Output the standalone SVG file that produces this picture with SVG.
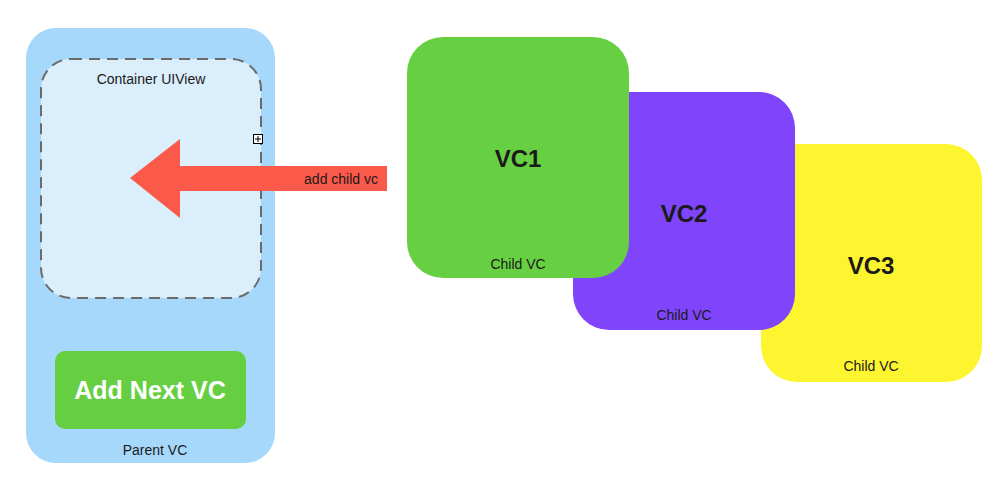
<svg xmlns="http://www.w3.org/2000/svg" width="1008" height="482" viewBox="0 0 1008 482">
<style>
text{font-family:"Liberation Sans",Arial,sans-serif;fill:#1a1a1a;text-anchor:middle}
.s{font-size:14px}
.b{font-size:24px;font-weight:bold}
</style>
<rect width="1008" height="482" fill="#ffffff"/>
<g id="parent">
<rect x="26" y="28" width="249" height="435" rx="30" fill="#a6d8fc"/>
<text class="s" x="155" y="455">Parent VC</text>
</g>
<g id="container">
<rect x="41" y="59" width="220" height="239" rx="30" fill="#dbeefc" stroke="#6b6b6b" stroke-width="2" stroke-dasharray="11 7"/>
<text class="s" x="151" y="84">Container UIView</text>
<rect x="253.5" y="134.5" width="9" height="9" fill="#ffffff" stroke="#000" stroke-width="1"/>
<path d="M258 136V142M255 139H261" stroke="#000" stroke-width="1"/>
</g>
<g id="button">
<rect x="55" y="351" width="191" height="78" rx="10" fill="#66cf41"/>
<text x="150" y="399" style="font-size:25px;font-weight:bold;fill:#ffffff">Add Next VC</text>
</g>
<g id="vc3">
<rect x="761" y="144" width="221" height="238" rx="36" fill="#fef531"/>
<text class="b" x="871" y="274">VC3</text>
<text class="s" x="871" y="371">Child VC</text>
</g>
<g id="vc2">
<rect x="573" y="92" width="222" height="238" rx="36" fill="#8045fb"/>
<text class="b" x="684" y="222">VC2</text>
<text class="s" x="684" y="320">Child VC</text>
</g>
<g id="vc1">
<rect x="407" y="37" width="222" height="241" rx="36" fill="#67d042"/>
<text class="b" x="518" y="167">VC1</text>
<text class="s" x="518" y="269">Child VC</text>
</g>
<g id="connectors">
<path d="M387 166H180V139L130 178L180 218V191H387Z" fill="#fb594a"/>
<text class="s" x="378" y="184" style="text-anchor:end">add child vc</text>
</g>
</svg>
